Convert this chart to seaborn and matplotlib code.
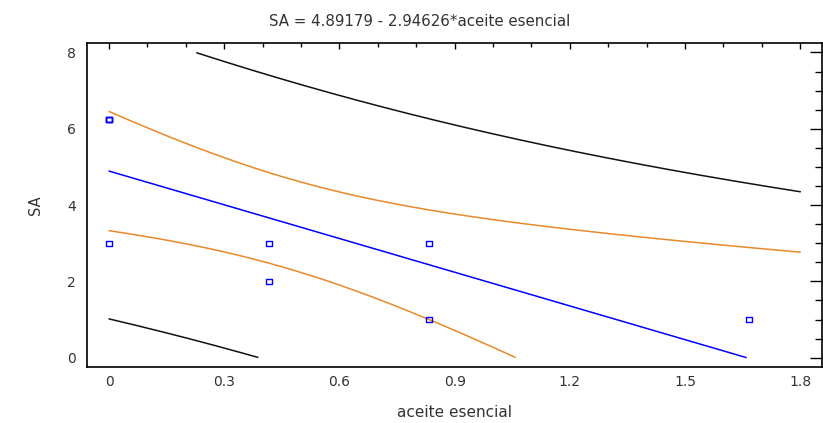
import numpy as np
import matplotlib
matplotlib.use("Agg")
import matplotlib.pyplot as plt
import seaborn as sns
from matplotlib.ticker import MultipleLocator, FixedLocator

# ---- data (duplicates overlap in the picture) ----
aceite = [0.0, 0.0, 0.0, 0.0, 0.41667, 0.41667, 0.83333, 0.83333, 1.66667]
sa = [6.25, 6.25, 6.25, 3.0, 3.0, 2.0, 3.0, 1.0, 1.0]

x_ticks = [0.0, 0.3, 0.6, 0.9, 1.2, 1.5, 1.8]
x_tick_labels = ["0", "0.3", "0.6", "0.9", "1.2", "1.5", "1.8"]
y_ticks = [0, 2, 4, 6, 8]
y_tick_labels = ["0", "2", "4", "6", "8"]

title_text = "SA = 4.89179 - 2.94626*aceite esencial"
x_label = "aceite esencial"
y_label = "SA"
T_975_DF7 = 2.3646  # Student t, 95% two-sided, n-2 = 7 df

# ---- simple linear regression with 95% confidence / prediction limits ----
x = np.asarray(aceite, dtype=float)
y = np.asarray(sa, dtype=float)
slope, intercept = np.polyfit(x, y, 1)
n = len(x)
xbar = x.mean()
sxx = ((x - xbar) ** 2).sum()
resid = y - (intercept + slope * x)
s = np.sqrt((resid ** 2).sum() / (n - 2))

grid = np.linspace(0.0, 1.8, 600)
fitted = intercept + slope * grid
hw_mean = T_975_DF7 * s * np.sqrt(1.0 / n + (grid - xbar) ** 2 / sxx)
hw_pred = T_975_DF7 * s * np.sqrt(1.0 + 1.0 / n + (grid - xbar) ** 2 / sxx)


def clip(v, lo=0.0, hi=8.0):
    v = np.asarray(v, dtype=float).copy()
    v[(v < lo) | (v > hi)] = np.nan
    return v


sns.set_theme(style="white")
plt.rcParams["font.family"] = ["DejaVu Sans"]

fig = plt.figure(figsize=(8.23, 4.23), dpi=100)
ax = fig.add_axes([87 / 823, 1 - 367 / 423, (822 - 87) / 823, (367 - 43) / 423])

black = "#111111"
orange = "#E8892A"
blue = "#0000FF"

for vals, col in [
    (fitted - hw_pred, black), (fitted + hw_pred, black),
    (fitted - hw_mean, orange), (fitted + hw_mean, orange),
    (fitted, blue),
]:
    m = ~np.isnan(clip(vals))
    sns.lineplot(x=grid[m], y=clip(vals)[m], color=col, linewidth=1.1,
                 sort=False, estimator=None, ax=ax)

sns.scatterplot(x=aceite, y=sa, marker="s", s=14, fc="none", ec=blue,
                linewidth=1.0, ax=ax, zorder=5)

ax.set_xlim(-0.0573, 1.8565)
ax.set_ylim(-0.244, 8.249)

ax.xaxis.set_major_locator(FixedLocator(x_ticks))
ax.set_xticklabels(x_tick_labels)
ax.xaxis.set_minor_locator(MultipleLocator(0.1))
ax.yaxis.set_major_locator(FixedLocator(y_ticks))
ax.set_yticklabels(y_tick_labels)
ax.yaxis.set_minor_locator(MultipleLocator(0.5))

ax.tick_params(which="both", direction="in", top=True, right=True,
               colors="black", width=1.0, labelsize=10, labelcolor="#333333")
ax.tick_params(axis="x", which="major", length=4.3, pad=6)
ax.tick_params(axis="x", which="minor", length=2.9)
ax.tick_params(axis="y", which="major", length=9.0, pad=8)
ax.tick_params(axis="y", which="minor", length=5.0)

for sp in ax.spines.values():
    sp.set_color("black")
    sp.set_linewidth(1.2)

ax.set_xlabel(x_label, fontsize=11, color="#333333", labelpad=11)
ax.set_ylabel(y_label, fontsize=10.5, color="#333333", labelpad=17)
fig.text(420 / 823, 1 - 21 / 423, title_text, ha="center", va="center",
         fontsize=10.8, color="#333333")

fig.savefig("out.png", dpi=100)
